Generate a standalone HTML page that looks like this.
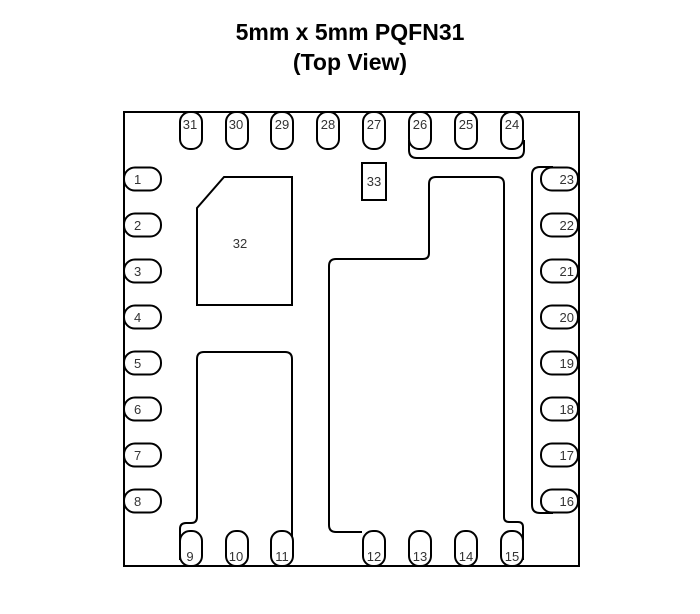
<!DOCTYPE html>
<html><head><style>
body{margin:0;background:#fff}
svg{display:block}
.t{font-family:"Liberation Sans",Arial,sans-serif;font-weight:bold;font-size:23px;fill:#000}
.p{font-family:"Liberation Sans",Arial,sans-serif;font-size:13px;fill:#333}
</style></head><body>
<svg width="700" height="614" viewBox="0 0 700 614" xmlns="http://www.w3.org/2000/svg">
<text class="t" x="350" y="40" text-anchor="middle">5mm x 5mm PQFN31</text>
<text class="t" x="350" y="70" text-anchor="middle">(Top View)</text>
<g fill="none" stroke="#000" stroke-width="2">
<rect x="124" y="112" width="455" height="454"/>
<path d="M224 177 H292 V305 H197 V208 Z"/>
<rect x="362" y="163" width="24" height="37"/>
<path d="M436 177 H497 Q504 177 504 184 V517 Q504 522 509 522 H518 Q523 522 523 527 V560 M429 184 Q429 177 436 177 M429 184 V253 Q429 259 423 259 H336 Q329 259 329 266 V525 Q329 532 336 532 H362"/>
<path d="M204 352 H285 Q292 352 292 359 V560 M204 352 Q197 352 197 359 V517 Q197 523 191 523 H186 Q180 523 180 529 V560"/>
<path d="M409 140 V150 Q409 158 417 158 H516 Q524 158 524 150 V140"/>
<path d="M553 167 H540 Q532 167 532 175 V505 Q532 513 540 513 H553"/>
</g>
<g fill="#fff" stroke="#000" stroke-width="2">
<rect x="124" y="167.5" width="37" height="23" rx="11"/>
<rect x="124" y="213.5" width="37" height="23" rx="11"/>
<rect x="124" y="259.5" width="37" height="23" rx="11"/>
<rect x="124" y="305.5" width="37" height="23" rx="11"/>
<rect x="124" y="351.5" width="37" height="23" rx="11"/>
<rect x="124" y="397.5" width="37" height="23" rx="11"/>
<rect x="124" y="443.5" width="37" height="23" rx="11"/>
<rect x="124" y="489.5" width="37" height="23" rx="11"/>
<rect x="541" y="167.5" width="37" height="23" rx="11"/>
<rect x="541" y="213.5" width="37" height="23" rx="11"/>
<rect x="541" y="259.5" width="37" height="23" rx="11"/>
<rect x="541" y="305.5" width="37" height="23" rx="11"/>
<rect x="541" y="351.5" width="37" height="23" rx="11"/>
<rect x="541" y="397.5" width="37" height="23" rx="11"/>
<rect x="541" y="443.5" width="37" height="23" rx="11"/>
<rect x="541" y="489.5" width="37" height="23" rx="11"/>
<rect x="180" y="112" width="22" height="37" rx="10"/>
<rect x="226" y="112" width="22" height="37" rx="10"/>
<rect x="271" y="112" width="22" height="37" rx="10"/>
<rect x="317" y="112" width="22" height="37" rx="10"/>
<rect x="363" y="112" width="22" height="37" rx="10"/>
<rect x="409" y="112" width="22" height="37" rx="10"/>
<rect x="455" y="112" width="22" height="37" rx="10"/>
<rect x="501" y="112" width="22" height="37" rx="10"/>
<rect x="180" y="531" width="22" height="35" rx="10"/>
<rect x="226" y="531" width="22" height="35" rx="10"/>
<rect x="271" y="531" width="22" height="35" rx="10"/>
<rect x="363" y="531" width="22" height="35" rx="10"/>
<rect x="409" y="531" width="22" height="35" rx="10"/>
<rect x="455" y="531" width="22" height="35" rx="10"/>
<rect x="501" y="531" width="22" height="35" rx="10"/>
</g>
<g class="p">
<text x="134" y="184">1</text><text x="134" y="230">2</text><text x="134" y="276">3</text><text x="134" y="322">4</text>
<text x="134" y="368">5</text><text x="134" y="414">6</text><text x="134" y="460">7</text><text x="134" y="506">8</text>
<g text-anchor="end">
<text x="574" y="184">23</text><text x="574" y="230">22</text><text x="574" y="276">21</text><text x="574" y="322">20</text>
<text x="574" y="368">19</text><text x="574" y="414">18</text><text x="574" y="460">17</text><text x="574" y="506">16</text>
</g>
<g text-anchor="middle">
<text x="190" y="129">31</text><text x="236" y="129">30</text><text x="282" y="129">29</text><text x="328" y="129">28</text>
<text x="374" y="129">27</text><text x="420" y="129">26</text><text x="466" y="129">25</text><text x="512" y="129">24</text>
<text x="190" y="561">9</text><text x="236" y="561">10</text><text x="282" y="561">11</text><text x="374" y="561">12</text>
<text x="420" y="561">13</text><text x="466" y="561">14</text><text x="512" y="561">15</text>
<text x="240" y="248">32</text>
<text x="374" y="186">33</text>
</g>
</g>
</svg>
</body></html>
